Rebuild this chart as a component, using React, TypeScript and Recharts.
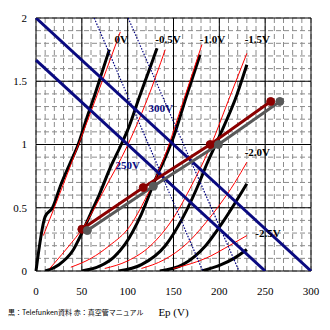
import React from "react";
import { LineChart, Line, XAxis, YAxis, CartesianGrid, ReferenceDot } from "recharts";

type Pt = [number, number];

// 黒: Telefunken の特性 (Ep [V], Ip [mA])
const tfk0V: Pt[] = [[0, 0], [10, 0.43], [18, 0.5], [27, 0.68], [37, 0.85], [46, 1.0], [55, 1.2], [64, 1.39], [72, 1.57], [80, 1.75]];
const tfk05V: Pt[] = [[10, 0], [25, 0.05], [40, 0.16], [50, 0.3], [60, 0.46], [70, 0.62], [80, 0.8], [93, 1.0], [102, 1.15], [112, 1.36], [122, 1.56], [132, 1.76]];
const tfk10V: Pt[] = [[50, 0], [70, 0.04], [85, 0.11], [97, 0.21], [115, 0.45], [130, 0.72], [140, 0.88], [150, 1.06], [164, 1.38], [179, 1.71]];
const tfk15V: Pt[] = [[90, 0], [115, 0.05], [141, 0.2], [160, 0.42], [177, 0.68], [186, 0.84], [201, 1.08], [219, 1.39], [230, 1.63]];
const tfk20V: Pt[] = [[135, 0], [160, 0.05], [185, 0.2], [205, 0.4], [230, 0.69]];
const tfk25V: Pt[] = [[181, 0], [202, 0.05], [216, 0.1], [230, 0.17]];

// 赤: 真空管マニュアルの特性
const man0V: Pt[] = [[8, 0.28], [21, 0.52], [38, 0.84], [62, 1.3], [92, 1.89]];
const man05V: Pt[] = [[15, 0.02], [21, 0.07], [35, 0.19], [52, 0.35], [75, 0.65], [99, 0.98], [121, 1.35], [141, 1.75]];
const man10V: Pt[] = [[38, 0.03], [60, 0.1], [80, 0.2], [102, 0.35], [120, 0.58], [140, 0.9], [161, 1.35], [181, 1.79]];
const man15V: Pt[] = [[75, 0.02], [100, 0.08], [125, 0.2], [150, 0.42], [170, 0.68], [190, 0.98], [210, 1.35], [230, 1.72]];
const man20V: Pt[] = [[115, 0.02], [140, 0.09], [165, 0.22], [185, 0.38], [200, 0.52], [217, 0.7], [230, 0.86]];
const man25V: Pt[] = [[150, 0.02], [170, 0.06], [191, 0.12], [206, 0.18], [230, 0.28]];

// 負荷線 (150kΩ)
const load300: Pt[] = [[0, 2], [300, 0]];
const load250: Pt[] = [[0, 1.667], [250, 0]];
const dotted1: Pt[] = [[63.5, 2], [182, 0]];
const dotted2: Pt[] = [[100.5, 2], [221.5, 0]];

// 動作点
const opRed: Pt[] = [[50, 0.33], [117, 0.66], [190, 1.0], [256, 1.34]];
const opGrey: Pt[] = [[56, 0.32], [128, 0.67], [199, 1.0], [266, 1.34]];

const epTicks = [0, 50, 100, 150, 200, 250, 300];
const ipTicks = [0, 0.5, 1, 1.5, 2];
const epMinor = [0, 10, 20, 30, 40, 50, 60, 70, 80, 90, 100, 110, 120, 130, 140, 150, 160, 170, 180, 190, 200, 210, 220, 230, 240, 250, 260, 270, 280, 290, 300];
const ipMinor = [0, 0.1, 0.2, 0.3, 0.4, 0.5, 0.6, 0.7, 0.8, 0.9, 1, 1.1, 1.2, 1.3, 1.4, 1.5, 1.6, 1.7, 1.8, 1.9, 2];

const gridLabels: { text: string; x: number; y: number }[] = [
  { text: "0V", x: 93, y: 1.83 },
  { text: "-0.5V", x: 144, y: 1.83 },
  { text: "-1.0V", x: 192.5, y: 1.83 },
  { text: "-1.5V", x: 241.5, y: 1.83 },
  { text: "-2.0V", x: 241.5, y: 0.94 },
  { text: "-2.5V", x: 253, y: 0.3 },
];
const bLabels: { text: string; x: number; y: number }[] = [
  { text: "300V", x: 136, y: 1.285 },
  { text: "250V", x: 100, y: 0.84 },
];

const serif = "'Liberation Serif', 'Times New Roman', serif";
const toData = (pts: Pt[]) => pts.map(([x, y]) => ({ x, y }));

const blacks = [tfk0V, tfk05V, tfk10V, tfk15V, tfk20V, tfk25V];
const reds = [man0V, man05V, man10V, man15V, man20V, man25V];

export default function App() {
  return (
    <div style={{ position: "absolute", left: 0, top: 0, width: 330, height: 330, background: "#fff" }}>
      <LineChart width={330} height={330} margin={{ top: 18, right: 19, left: 6, bottom: 29 }}>
        <CartesianGrid
          verticalValues={epMinor}
          horizontalValues={ipMinor}
          stroke="#8c8c8c"
          strokeDasharray="5 3"
        />
        <CartesianGrid verticalValues={epTicks} horizontalValues={ipTicks} stroke="#000" />
        <XAxis
          dataKey="x"
          type="number"
          domain={[0, 300]}
          ticks={epTicks}
          interval={0}
          height={30}
          axisLine={false}
          tickLine={false}
          tickSize={0}
          tickMargin={16}
          tick={{ fill: "#000", fontSize: 11, fontFamily: serif }}
          label={{ value: "Ep (V)", position: "bottom", offset: 7, fill: "#000", fontSize: 11, fontFamily: serif }}
        />
        <YAxis
          type="number"
          domain={[0, 2]}
          ticks={ipTicks}
          interval={0}
          width={30}
          allowDataOverflow
          axisLine={false}
          tickLine={false}
          tickSize={0}
          tickMargin={9}
          tick={{ fill: "#000", fontSize: 11, fontFamily: serif }}
        />
        {blacks.map((s, i) => (
          <Line key={"b" + i} data={toData(s)} dataKey="y" type="monotone" stroke="#000" strokeWidth={3}
            dot={false} activeDot={false} isAnimationActive={false} />
        ))}
        {reds.map((s, i) => (
          <Line key={"r" + i} data={toData(s)} dataKey="y" type="monotone" stroke="#ff0000" strokeWidth={1}
            dot={false} activeDot={false} isAnimationActive={false} />
        ))}
        <Line data={toData(dotted1)} dataKey="y" type="linear" stroke="#000080" strokeWidth={1.2} strokeDasharray="1.5 1.5"
          dot={false} activeDot={false} isAnimationActive={false} />
        <Line data={toData(dotted2)} dataKey="y" type="linear" stroke="#000080" strokeWidth={1.2} strokeDasharray="1.5 1.5"
          dot={false} activeDot={false} isAnimationActive={false} />
        <Line data={toData(load300)} dataKey="y" type="linear" stroke="#0a0a80" strokeWidth={3}
          dot={false} activeDot={false} isAnimationActive={false} />
        <Line data={toData(load250)} dataKey="y" type="linear" stroke="#0a0a80" strokeWidth={3}
          dot={false} activeDot={false} isAnimationActive={false} />
        <Line data={toData(opRed)} dataKey="y" type="linear" stroke="#8b0000" strokeWidth={3}
          dot={{ r: 4, fill: "#8b0000", stroke: "#8b0000", strokeWidth: 1 }} activeDot={false} isAnimationActive={false} />
        <Line data={toData(opGrey)} dataKey="y" type="linear" stroke="#595959" strokeWidth={3}
          dot={{ r: 4, fill: "#595959", stroke: "#595959", strokeWidth: 1 }} activeDot={false} isAnimationActive={false} />
        {gridLabels.map((l) => (
          <ReferenceDot key={l.text} x={l.x} y={l.y} r={0} fill="none" stroke="none"
            label={{ value: l.text, position: "center", fill: "#000", fontSize: 11, fontWeight: "bold", fontFamily: serif }} />
        ))}
        {bLabels.map((l) => (
          <ReferenceDot key={l.text} x={l.x} y={l.y} r={0} fill="none" stroke="none"
            label={{ value: l.text, position: "center", fill: "#0a0a80", fontSize: 11, fontWeight: "bold", fontFamily: serif }} />
        ))}
      </LineChart>
      <div
        style={{
          position: "absolute",
          left: 8,
          top: 306,
          fontSize: 7,
          lineHeight: "12px",
          fontFamily: "'Noto Sans CJK JP', sans-serif",
          color: "#000",
          whiteSpace: "nowrap",
        }}
      >
        黒：Telefunken資料 赤：真空管マニュアル
      </div>
    </div>
  );
}
